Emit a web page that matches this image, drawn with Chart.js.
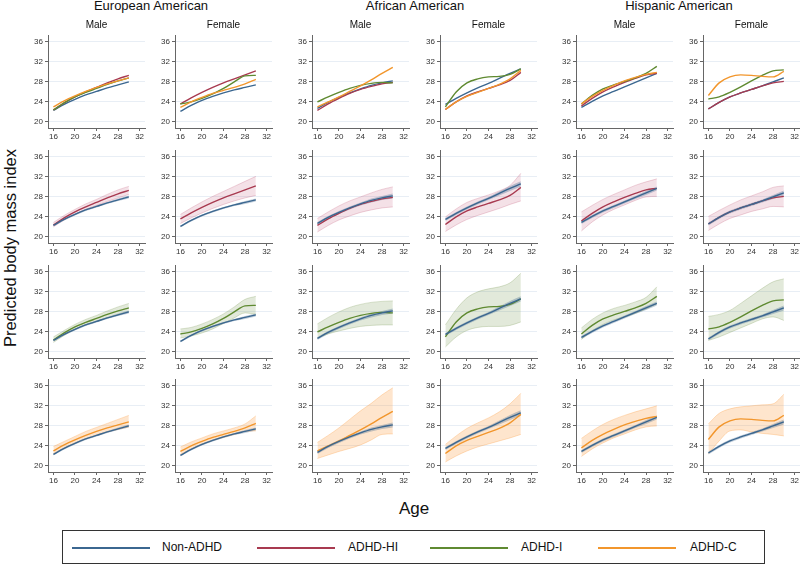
<!DOCTYPE html>
<html><head><meta charset="utf-8">
<script src="https://cdn.jsdelivr.net/npm/chart.js@4.4.1/dist/chart.umd.min.js"></script>
<style>
body{margin:0;background:#fff;width:800px;height:569px;position:relative;overflow:hidden;font-family:"Liberation Sans",Arial,sans-serif;color:#111}
canvas{position:absolute}
.t{position:absolute;white-space:nowrap;line-height:1}
.legend{position:absolute;left:62px;top:530px;width:703px;height:34px;border:1px solid #333;box-sizing:border-box}
.lg{position:absolute;height:2px;top:16px;width:78px}
.lt{position:absolute;top:10px;font-size:12px;line-height:1;color:#111}
</style></head><body>
<script>
// ---------- data ----------
const ages = [16, 18, 20, 22, 24, 26, 28, 30];
const groups = ['European American', 'African American', 'Hispanic American'];
const sexes = ['Male', 'Female'];
const seriesNames = ['Non-ADHD', 'ADHD-HI', 'ADHD-I', 'ADHD-C'];
const xTicks = [16, 20, 24, 28, 32];
const yTicks = [20, 24, 28, 32, 36];
// panels: EA-Male, EA-Female, AA-Male, AA-Female, HA-Male, HA-Female
const nonADHD = [
  [22.3,23.5,24.5,25.4,26.1,26.8,27.4,28.0],
  [22.1,23.3,24.3,25.1,25.8,26.4,26.9,27.4],
  [22.7,23.9,24.9,25.8,26.6,27.3,27.8,28.2],
  [23.5,24.7,25.8,26.8,27.7,28.7,29.7,30.6],
  [22.9,24.1,25.2,26.1,27.0,27.9,28.8,29.7],
  [22.6,23.9,25.0,25.8,26.5,27.2,28.0,28.8]];
const nonADHDLow = [
  [22.1,23.3,24.3,25.2,25.9,26.6,27.2,27.7],
  [21.9,23.1,24.1,24.9,25.6,26.2,26.6,27.1],
  [22.4,23.6,24.6,25.5,26.3,26.9,27.4,27.7],
  [23.2,24.4,25.5,26.5,27.4,28.3,29.2,30.1],
  [22.6,23.8,24.9,25.8,26.7,27.6,28.4,29.3],
  [22.3,23.6,24.7,25.5,26.2,26.9,27.6,28.3]];
const nonADHDHigh = [
  [22.5,23.7,24.7,25.6,26.3,27.0,27.7,28.3],
  [22.3,23.5,24.5,25.3,26.0,26.6,27.2,27.7],
  [23.0,24.2,25.2,26.1,26.9,27.7,28.2,28.7],
  [23.8,25.0,26.1,27.1,28.0,29.1,30.2,31.1],
  [23.2,24.4,25.5,26.4,27.3,28.2,29.2,30.1],
  [22.9,24.2,25.3,26.1,26.8,27.5,28.4,29.3]];
const adhdHI = [
  [22.4,23.8,25.0,26.0,26.9,27.8,28.6,29.3],
  [23.6,24.8,25.9,26.9,27.8,28.6,29.4,30.2],
  [22.3,23.6,24.7,25.7,26.5,27.1,27.6,27.9],
  [22.5,24.0,25.2,26.0,26.7,27.4,28.3,29.9],
  [23.2,24.7,26.0,27.0,27.9,28.7,29.4,29.7],
  [22.6,23.9,25.0,25.8,26.5,27.2,27.8,28.1]];
const adhdHILow = [
  [22.0,23.4,24.5,25.5,26.3,27.1,27.8,28.5],
  [22.7,23.8,24.8,25.7,26.5,27.2,27.8,28.3],
  [21.0,22.3,23.4,24.2,24.9,25.4,25.8,26.0],
  [21.1,22.4,23.5,24.3,25.0,25.7,26.5,27.2],
  [21.2,23.0,24.4,25.5,26.4,27.3,28.0,28.1],
  [21.3,22.6,23.7,24.4,25.1,25.6,26.1,26.0]];
const adhdHIHigh = [
  [22.9,24.3,25.5,26.6,27.5,28.5,29.4,30.1],
  [24.5,25.8,27.0,28.1,29.1,30.1,31.1,32.1],
  [23.7,25.0,26.2,27.2,28.0,28.8,29.5,30.0],
  [24.0,25.6,26.9,27.7,28.4,29.2,30.3,32.7],
  [25.0,26.3,27.5,28.5,29.4,30.3,31.0,31.6],
  [24.1,25.3,26.4,27.4,28.2,29.0,29.9,30.2]];
const adhdI = [
  [22.4,23.8,25.0,25.9,26.7,27.5,28.2,28.8],
  [23.6,24.0,24.7,25.6,26.7,28.0,29.2,29.3],
  [24.0,25.0,25.9,26.7,27.3,27.7,27.9,27.8],
  [23.0,26.0,27.8,28.6,29.0,29.1,29.5,30.6],
  [23.6,25.3,26.6,27.4,28.1,28.8,29.7,31.1],
  [24.6,25.0,25.9,27.0,28.2,29.3,30.2,30.4]];
const adhdILow = [
  [21.9,23.3,24.5,25.4,26.1,26.8,27.4,28.0],
  [22.8,23.2,23.8,24.6,25.7,26.8,27.8,27.5],
  [22.8,23.6,24.2,24.7,25.1,25.3,25.4,25.4],
  [21.0,23.0,24.3,24.9,25.1,25.1,25.3,26.0],
  [22.5,24.2,25.5,26.4,27.0,27.7,28.6,29.6],
  [22.3,23.0,23.9,24.8,25.7,26.6,27.0,26.3]];
const adhdIHigh = [
  [23.0,24.3,25.5,26.5,27.3,28.2,29.0,29.7],
  [24.6,24.9,25.6,26.5,27.6,29.0,30.5,31.1],
  [25.6,26.9,28.0,28.9,29.5,29.9,30.1,30.2],
  [25.4,28.5,30.8,32.0,32.6,33.0,33.8,35.7],
  [24.8,26.5,27.8,28.7,29.3,30.0,30.9,33.0],
  [27.1,27.5,28.3,29.7,31.2,32.7,34.0,34.6]];
const adhdC = [
  [23.0,24.2,25.2,26.1,26.9,27.6,28.2,28.8],
  [22.9,24.0,24.9,25.7,26.3,26.9,27.6,28.5],
  [23.0,24.0,25.0,26.1,27.2,28.4,29.7,30.9],
  [22.5,24.0,25.1,25.9,26.7,27.5,28.6,30.3],
  [23.6,25.1,26.3,27.3,28.2,28.9,29.5,29.9],
  [25.3,27.8,29.0,29.4,29.3,29.1,29.0,30.1]];
const adhdCLow = [
  [22.5,23.6,24.5,25.4,26.1,26.8,27.3,27.8],
  [22.3,23.4,24.3,25.1,25.7,26.3,26.9,27.0],
  [21.5,22.2,22.9,23.5,24.2,25.2,26.3,26.4],
  [20.8,22.0,23.0,23.8,24.4,25.0,25.6,26.3],
  [21.9,23.4,24.6,25.6,26.4,27.2,27.8,28.0],
  [22.4,25.0,27.0,27.2,26.8,26.5,26.3,26.0]];
const adhdCHigh = [
  [23.9,24.9,25.9,26.9,27.7,28.5,29.3,30.1],
  [23.8,24.8,25.6,26.4,27.0,27.6,28.4,30.0],
  [24.7,26.1,27.6,29.3,31.0,32.5,34.2,35.6],
  [24.3,26.0,27.5,28.6,29.6,30.8,32.4,34.5],
  [25.5,27.0,28.3,29.3,30.1,30.8,31.4,32.0],
  [28.4,30.5,31.4,31.8,32.0,32.2,32.4,34.3]];

// ---------- styling ----------
const FONT = '"Liberation Sans", Arial, sans-serif';
const lineColors = ['#3b6790', '#a83a50', '#5f8a31', '#f2962c'];
const bandColors = ['rgba(60,100,140,0.32)', 'rgba(190,80,110,0.17)', 'rgba(110,145,70,0.2)', 'rgba(252,160,70,0.27)'];
const bandEdges = ['rgba(60,100,140,0)', 'rgba(190,80,110,0.35)', 'rgba(110,145,70,0.35)', 'rgba(252,160,70,0.45)'];
const colX = [48, 175, 312, 440, 576, 703];
const rowTop = [33, 148, 263, 377];
const PW = 97, PH = 95, YW = 22, XH = 16, PADT = 4, PADR = 4;

const mid = [nonADHD, adhdHI, adhdI, adhdC];
const lows = [nonADHDLow, adhdHILow, adhdILow, adhdCLow];
const highs = [nonADHDHigh, adhdHIHigh, adhdIHigh, adhdCHigh];

function xy(arr) { return ages.map((a, i) => ({x: a, y: arr[i]})); }
function lineDs(s, p, order) {
  return {data: xy(mid[s][p]), borderColor: lineColors[s], borderWidth: 1.4, pointRadius: 0,
    fill: false, cubicInterpolationMode: 'monotone', order: order};
}
function bandDs(s, p, order) {
  return [
    {data: xy(lows[s][p]), borderColor: bandEdges[s], borderWidth: 0.7, pointRadius: 0, fill: false,
      cubicInterpolationMode: 'monotone', order: order},
    {data: xy(highs[s][p]), borderColor: bandEdges[s], borderWidth: 0.7, pointRadius: 0, fill: '-1',
      backgroundColor: bandColors[s], cubicInterpolationMode: 'monotone', order: order}
  ];
}

function addText(txt, left, top, fs, extra) {
  const d = document.createElement('div');
  d.className = 't';
  d.textContent = txt;
  d.style.fontSize = fs + 'px';
  d.style.left = left + 'px';
  d.style.top = top + 'px';
  if (extra) Object.assign(d.style, extra);
  document.body.appendChild(d);
  return d;
}

const tickFont = {family: FONT, size: 8};
function makePanel(row, p) {
  const cv = document.createElement('canvas');
  const w = YW + PW + PADR, h = PADT + PH + XH;
  cv.width = w; cv.height = h;
  cv.style.left = (colX[p] - YW) + 'px';
  cv.style.top = (rowTop[row] - PADT) + 'px';
  cv.style.width = w + 'px'; cv.style.height = h + 'px';
  document.body.appendChild(cv);
  let datasets;
  if (row === 0) {
    datasets = [lineDs(0, p, 3), lineDs(1, p, 2), lineDs(2, p, 1), lineDs(3, p, 0)];
  } else {
    datasets = [...bandDs(row, p, 30), ...bandDs(0, p, 20), lineDs(row, p, 10), lineDs(0, p, 0)];
  }
  new Chart(cv, {
    type: 'line',
    data: {datasets},
    options: {
      responsive: false, animation: false, devicePixelRatio: 1,
      layout: {padding: {top: PADT, right: PADR, left: 0, bottom: 0}},
      plugins: {legend: {display: false}, tooltip: {enabled: false}, filler: {drawTime: 'beforeDatasetsDraw'}},
      scales: {
        x: {type: 'linear', min: 15, max: 33,
          afterBuildTicks: s => { s.ticks = xTicks.map(v => ({value: v})); },
          afterFit: s => { s.height = XH; },
          grid: {drawOnChartArea: false, tickLength: 3, tickColor: '#666', lineWidth: 1},
          border: {display: true, color: '#666', width: 1},
          ticks: {font: tickFont, color: '#333', padding: 1, maxRotation: 0, autoSkip: false}},
        y: {type: 'linear', min: 18.8, max: 37.2,
          afterBuildTicks: s => { s.ticks = yTicks.map(v => ({value: v})); },
          afterFit: s => { s.width = YW; },
          grid: {color: '#e8eef5', lineWidth: 1, tickLength: 3, tickColor: '#666'},
          border: {display: true, color: '#666', width: 1},
          ticks: {font: tickFont, color: '#333', padding: 2, autoSkip: false}}
      }
    }
  });
}

for (let r = 0; r < 4; r++) for (let p = 0; p < 6; p++) makePanel(r, p);

// titles
const groupCenters = [151, 415, 679];
groups.forEach((g, i) => {
  const d = addText(g, groupCenters[i], -1, 13);
  d.style.transform = 'translateX(-50%)';
});
for (let p = 0; p < 6; p++) {
  const d = addText(sexes[p % 2], colX[p] + PW / 2, 19.5, 10);
  d.style.transform = 'translateX(-50%)';
}
const yt = addText('Predicted body mass index', 10, 248, 16.5);
yt.style.transform = 'translate(-50%,-50%) rotate(-90deg)';
const xt = addText('Age', 414, 500, 17);
xt.style.transform = 'translateX(-50%)';

// legend
const lg = document.createElement('div');
lg.className = 'legend';
document.body.appendChild(lg);
const lineLeft = [9, 194, 367, 535];
const textLeft = [99, 285, 458, 627];
seriesNames.forEach((n, i) => {
  const l = document.createElement('div');
  l.className = 'lg'; l.style.left = lineLeft[i] + 'px'; l.style.background = lineColors[i];
  lg.appendChild(l);
  const t = document.createElement('div');
  t.className = 'lt'; t.style.left = textLeft[i] + 'px'; t.textContent = n;
  lg.appendChild(t);
});
</script>
</body></html>
